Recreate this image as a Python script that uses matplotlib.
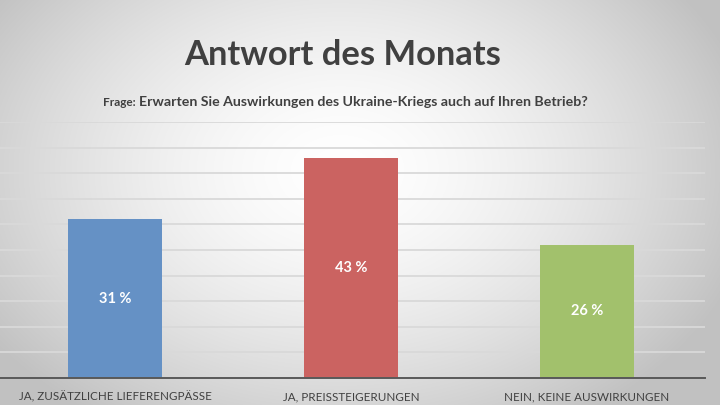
import matplotlib.pyplot as plt
import numpy as np

# data
categories = ["JA, ZUSÄTZLICHE LIEFERENGPÄSSE", "JA, PREISSTEIGERUNGEN", "NEIN, KEINE AUSWIRKUNGEN"]
values = [31, 43, 26]
value_labels = ["31 %", "43 %", "26 %"]
bar_colors = ["#6591c5", "#cb6361", "#a2c16c"]

title = "Antwort des Monats"
frage = "Frage:"
question = "Erwarten Sie Auswirkungen des Ukraine-Kriegs auch auf Ihren Betrieb?"

plt.rcParams['font.family'] = ['Lato', 'DejaVu Sans']

fig = plt.figure(figsize=(7.2, 4.05), dpi=100)

# radial gradient background
bg = fig.add_axes([0, 0, 1, 1])
yy, xx = np.mgrid[0:405, 0:720]
r = np.sqrt(((xx - 340) / 420.0) ** 2 + ((yy - 170) / 300.0) ** 2)
shade = 1.0 - 0.24 * np.clip(r, 0, 1) ** 1.6
bg.imshow(np.dstack([shade] * 3), extent=[0, 720, 405, 0], aspect='auto')
bg.set_xlim(0, 720)
bg.set_ylim(405, 0)
bg.axis('off')

# chart area
ax = fig.add_axes([0, (405 - 378) / 405, 705 / 720, (378 - 122) / 405])
ax.patch.set_alpha(0)
x = np.arange(len(categories))
ax.bar(x, values, width=0.4, color=bar_colors, zorder=3)
ax.set_xlim(-0.487, 2.5)
ax.set_ylim(0, 50)
ax.set_yticks(np.arange(5, 51, 5))
ax.yaxis.grid(True, color="#d9d9d9", lw=1.3, zorder=0)
ax.tick_params(left=False, labelleft=False, bottom=False)
for s in ["top", "right", "left"]:
    ax.spines[s].set_visible(False)
ax.spines["bottom"].set_color("#595959")
ax.spines["bottom"].set_linewidth(1.4)
ax.spines["bottom"].set_zorder(4)
ax.set_xticks(x)
ax.set_xticklabels(categories, fontsize=8.4, color="#404040")
ax.tick_params(axis='x', pad=6)

for xi, v, lab in zip(x, values, value_labels):
    ax.text(xi, v / 2, lab, ha='center', va='center', color='white',
            fontsize=10.5, fontweight='bold', zorder=5)

# titles
fig.text(343 / 720, 1 - 55 / 405, title, ha='center', va='center',
         fontsize=24.8, fontweight='bold', color="#404040")
fig.text(103 / 720, 1 - 103 / 405, frage, ha='left', va='center',
         fontsize=8.5, fontweight='bold', color="#404040")
fig.text(139 / 720, 1 - 102 / 405, question, ha='left', va='center',
         fontsize=10.2, fontweight='bold', color="#404040")

fig.savefig("out.png", dpi=100)
